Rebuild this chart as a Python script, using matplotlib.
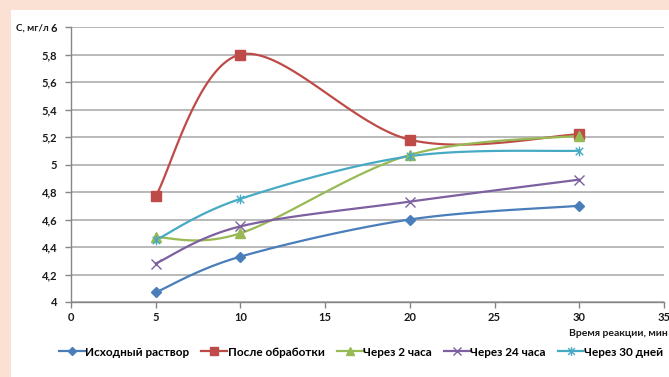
import numpy as np
import matplotlib.pyplot as plt
from matplotlib.path import Path
from matplotlib.patches import Rectangle

plt.rcParams['font.family'] = ['Lato', 'DejaVu Sans']
plt.rcParams['font.weight'] = 'bold'

# reaction time, min
t = [5, 10, 20, 30]

# concentration, mg/l
c_initial = [4.07, 4.33, 4.60, 4.70]
c_treated = [4.77, 5.80, 5.18, 5.22]
c_2h = [4.47, 4.50, 5.07, 5.21]
c_24h = [4.28, 4.55, 4.73, 4.89]
c_30d = [4.45, 4.75, 5.06, 5.10]

labels = ['Исходный раствор', 'После обработки', 'Через 2 часа',
          'Через 24 часа', 'Через 30 дней']

colors = ['#4a7ebb', '#be4b48', '#98b954', '#7d60a0', '#46aac5']

# asterisk marker: an x with a vertical bar through it
star = Path([(-1, -1), (1, 1), (-1, 1), (1, -1), (0, -1.3), (0, 1.3)],
            [Path.MOVETO, Path.LINETO, Path.MOVETO, Path.LINETO,
             Path.MOVETO, Path.LINETO])

markers = [('D', 5), ('s', 6.5), ('^', 7), ('x', 7), (star, 7)]


def smooth(xs, ys, n=40):
    """Catmull-Rom style bezier smoothing, like spreadsheet 'smoothed line'."""
    p = np.column_stack([xs, ys]).astype(float)
    p_ext = np.vstack([p[0], p, p[-1]])
    out = []
    for i in range(len(p) - 1):
        p0, p1, p2, p3 = p_ext[i], p_ext[i + 1], p_ext[i + 2], p_ext[i + 3]
        c1 = p1 + (p2 - p0) / 6
        c2 = p2 - (p3 - p1) / 6
        s = np.linspace(0, 1, n)[:, None]
        seg = ((1 - s) ** 3 * p1 + 3 * (1 - s) ** 2 * s * c1
               + 3 * (1 - s) * s ** 2 * c2 + s ** 3 * p2)
        out.append(seg if i == 0 else seg[1:])
    out = np.vstack(out)
    return out[:, 0], out[:, 1]


fig = plt.figure(figsize=(6.69, 3.77), dpi=100, facecolor='#fbe1d4')
fig.patches.append(Rectangle((11 / 669, 0), 1 - 11 / 669, 1 - 10 / 377,
                             transform=fig.transFigure, facecolor='white',
                             edgecolor='none', zorder=-10))

ax = fig.add_axes([71 / 669, 75 / 377, 593 / 669, 275 / 377])
ax.set_facecolor('white')

series = [c_initial, c_treated, c_2h, c_24h, c_30d]
handles = []
for ys, col, (mk, ms), lab in zip(series, colors, markers, labels):
    sx, sy = smooth(t, ys)
    ax.plot(sx, sy, color=col, lw=1.6, zorder=3)
    ax.plot(t, ys, ls='none', marker=mk, ms=ms, mfc=col, mec=col,
            mew=1.0, zorder=4)
    h, = ax.plot([], [], color=col, lw=1.6, marker=mk, ms=ms * 0.9,
                 mfc=col, mec=col, mew=1.0)
    handles.append(h)

ax.set_xlim(0, 35)
ax.set_ylim(4, 6)
ax.set_xticks(np.arange(0, 36, 5))
yt = np.round(np.arange(4, 6.01, 0.2), 1)
ax.set_yticks(yt)
ax.set_yticklabels([f'{v:g}'.replace('.', ',') for v in yt])

ax.yaxis.grid(True, color='#a6a6a6', lw=1.1)
ax.set_axisbelow(True)
for side in ('top', 'right'):
    ax.spines[side].set_visible(False)
for side in ('left', 'bottom'):
    ax.spines[side].set_color('#868686')
    ax.spines[side].set_linewidth(1.0)
ax.tick_params(axis='both', colors='#868686', length=4, width=1,
               labelsize=8, labelcolor='#1a1a1a')
ax.tick_params(axis='y', pad=6)

fig.text(16 / 669, 1 - 28 / 377, 'С, мг/л', fontsize=7, fontweight='bold',
         va='center', ha='left', color='#1a1a1a')
fig.text(668 / 669, 1 - 333 / 377, 'Время реакции, мин', fontsize=7.5,
         fontweight='bold', va='center', ha='right', color='#1a1a1a')

fig.legend(handles, labels, loc='center', bbox_to_anchor=(361 / 669, 1 - 352 / 377),
           ncol=5, frameon=False, fontsize=8.5, handlelength=2.2,
           handletextpad=0.05, columnspacing=1.0, borderaxespad=0,
           borderpad=0)

fig.savefig('out.png', dpi=100, facecolor=fig.get_facecolor())
